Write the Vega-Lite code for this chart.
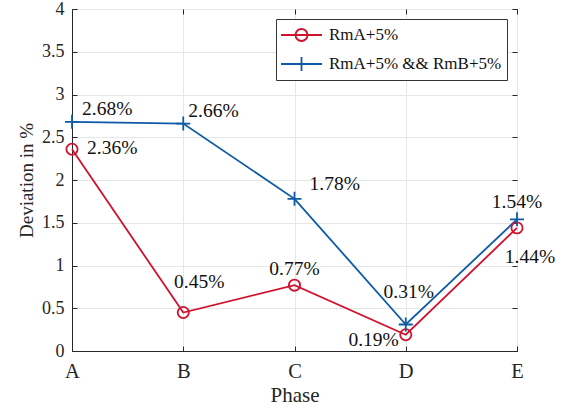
{
  "$schema": "https://vega.github.io/schema/vega-lite/v6.json",
  "width": 445,
  "height": 342,
  "autosize": {"type": "none"},
  "padding": {"left": 72, "top": 9, "right": 56, "bottom": 58},
  "background": "white",
  "config": {
    "font": "Liberation Serif",
    "view": {"stroke": "#262626", "strokeWidth": 1},
    "text": {"font": "Liberation Serif"},
    "legend": {"labelFont": "Liberation Serif"},
    "axis": {
      "labelFont": "Liberation Serif",
      "titleFont": "Liberation Serif",
      "labelFontSize": 18,
      "titleFontSize": 19,
      "titleFontWeight": "normal",
      "labelColor": "#262626",
      "titleColor": "#262626",
      "domainColor": "#262626",
      "tickColor": "#262626",
      "gridColor": "#e6e6e6",
      "gridWidth": 1
    }
  },
  "resolve": {"axis": {"x": "independent", "y": "independent"}},
  "data": {
    "values": [
      {"Phase": "A", "series": "RmA+5%", "value": 2.36, "label": "2.36%"},
      {"Phase": "B", "series": "RmA+5%", "value": 0.45, "label": "0.45%"},
      {"Phase": "C", "series": "RmA+5%", "value": 0.77, "label": "0.77%"},
      {"Phase": "D", "series": "RmA+5%", "value": 0.19, "label": "0.19%"},
      {"Phase": "E", "series": "RmA+5%", "value": 1.44, "label": "1.44%"},
      {"Phase": "A", "series": "RmA+5% && RmB+5%", "value": 2.68, "label": "2.68%"},
      {"Phase": "B", "series": "RmA+5% && RmB+5%", "value": 2.66, "label": "2.66%"},
      {"Phase": "C", "series": "RmA+5% && RmB+5%", "value": 1.78, "label": "1.78%"},
      {"Phase": "D", "series": "RmA+5% && RmB+5%", "value": 0.31, "label": "0.31%"},
      {"Phase": "E", "series": "RmA+5% && RmB+5%", "value": 1.54, "label": "1.54%"}
    ]
  },
  "layer": [
    {
      "mark": {"type": "line", "strokeWidth": 1.8},
      "encoding": {
        "x": {
          "field": "Phase", "type": "ordinal",
          "scale": {"type": "point", "padding": 0},
          "axis": {"title": "Phase", "labelAngle": 0, "grid": true, "tickSize": -5, "labelPadding": 15, "titlePadding": 3, "labelFontSize": 20.5, "titleFontSize": 21}
        },
        "y": {
          "field": "value", "type": "quantitative",
          "scale": {"domain": [0, 4], "nice": false},
          "axis": {"title": "Deviation in %", "values": [0, 0.5, 1, 1.5, 2, 2.5, 3, 3.5, 4], "format": "~g", "grid": true, "tickSize": -5, "labelPadding": 13, "titlePadding": 5}
        },
        "color": {
          "field": "series", "type": "nominal",
          "scale": {"domain": ["RmA+5%", "RmA+5% && RmB+5%"], "range": ["#d0122d", "#0d5ba6"]},
          "legend": {
            "title": null,
            "orient": "top-right",
            "offset": 10,
            "padding": 5,
            "strokeColor": "#333333",
            "fillColor": "white",
            "labelFontSize": 17,
            "labelLimit": 400,
            "labelColor": "#111111",
            "symbolSize": 400,
            "symbolStrokeWidth": 1.8,
            "rowPadding": 8,
            "labelOffset": 26,
            "encode": {
              "symbols": {
                "update": {
                  "shape": {"signal": "datum.value === 'RmA+5%' ? 'M-1.1,0H3M0.35,0A0.6,0.6 0 1,0 1.55,0A0.6,0.6 0 1,0 0.35,0' : 'M-1.1,0H3M0.95,-0.7V0.7'"},
                  "fill": {"value": "transparent"}
                }
              }
            }
          }
        }
      }
    },
    {
      "transform": [{"filter": "datum.series === 'RmA+5%'"}],
      "mark": {"type": "point", "shape": "circle", "size": 125, "filled": false, "strokeWidth": 1.8, "color": "#d0122d", "opacity": 1},
      "encoding": {
        "x": {"field": "Phase", "type": "ordinal", "scale": {"type": "point", "padding": 0}, "axis": {"orient": "top", "labels": false, "title": null, "grid": false, "domain": false, "tickSize": -5}},
        "y": {"field": "value", "type": "quantitative", "scale": {"domain": [0, 4], "nice": false}, "axis": {"orient": "right", "labels": false, "title": null, "grid": false, "domain": false, "tickSize": -5, "values": [0, 0.5, 1, 1.5, 2, 2.5, 3, 3.5, 4]}}
      }
    },
    {
      "transform": [{"filter": "datum.series !== 'RmA+5%'"}],
      "mark": {"type": "point", "shape": "M-1,0H1M0,-1V1", "size": 196, "filled": false, "strokeWidth": 1.8, "color": "#0d5ba6", "opacity": 1},
      "encoding": {
        "x": {"field": "Phase", "type": "ordinal", "scale": {"type": "point", "padding": 0}, "axis": null},
        "y": {"field": "value", "type": "quantitative", "scale": {"domain": [0, 4], "nice": false}, "axis": null}
      }
    },
    {
      "encoding": {
        "x": {"field": "Phase", "type": "ordinal", "scale": {"type": "point", "padding": 0}, "axis": null},
        "y": {"field": "value", "type": "quantitative", "scale": {"domain": [0, 4], "nice": false}, "axis": null},
        "text": {"field": "label"}
      },
      "layer": [
        {
          "transform": [{"filter": "datum.label === '2.68%'"}],
          "mark": {"type": "text", "align": "left", "baseline": "middle", "dx": 10, "dy": -12.5, "fontSize": 19.5, "color": "#111111"}
        },
        {
          "transform": [{"filter": "datum.label === '2.66%'"}],
          "mark": {"type": "text", "align": "left", "baseline": "middle", "dx": 5, "dy": -12.5, "fontSize": 19.5, "color": "#111111"}
        },
        {
          "transform": [{"filter": "datum.label === '2.36%'"}],
          "mark": {"type": "text", "align": "left", "baseline": "middle", "dx": 15, "dy": -1, "fontSize": 19.5, "color": "#111111"}
        },
        {
          "transform": [{"filter": "datum.label === '1.78%'"}],
          "mark": {"type": "text", "align": "left", "baseline": "middle", "dx": 15, "dy": -15, "fontSize": 19.5, "color": "#111111"}
        },
        {
          "transform": [{"filter": "datum.label === '0.45%'"}],
          "mark": {"type": "text", "align": "center", "baseline": "middle", "dx": 16, "dy": -31, "fontSize": 19.5, "color": "#111111"}
        },
        {
          "transform": [{"filter": "datum.label === '0.77%'"}],
          "mark": {"type": "text", "align": "center", "baseline": "middle", "dx": 0, "dy": -16, "fontSize": 19.5, "color": "#111111"}
        },
        {
          "transform": [{"filter": "datum.label === '0.31%'"}],
          "mark": {"type": "text", "align": "center", "baseline": "middle", "dx": 3, "dy": -32, "fontSize": 19.5, "color": "#111111"}
        },
        {
          "transform": [{"filter": "datum.label === '0.19%'"}],
          "mark": {"type": "text", "align": "right", "baseline": "middle", "dx": -7, "dy": 5, "fontSize": 19.5, "color": "#111111"}
        },
        {
          "transform": [{"filter": "datum.label === '1.54%'"}],
          "mark": {"type": "text", "align": "center", "baseline": "middle", "dx": 0, "dy": -17, "fontSize": 19.5, "color": "#111111"}
        },
        {
          "transform": [{"filter": "datum.label === '1.44%'"}],
          "mark": {"type": "text", "align": "center", "baseline": "middle", "dx": 13, "dy": 29, "fontSize": 19.5, "color": "#111111"}
        }
      ]
    }
  ]
}
